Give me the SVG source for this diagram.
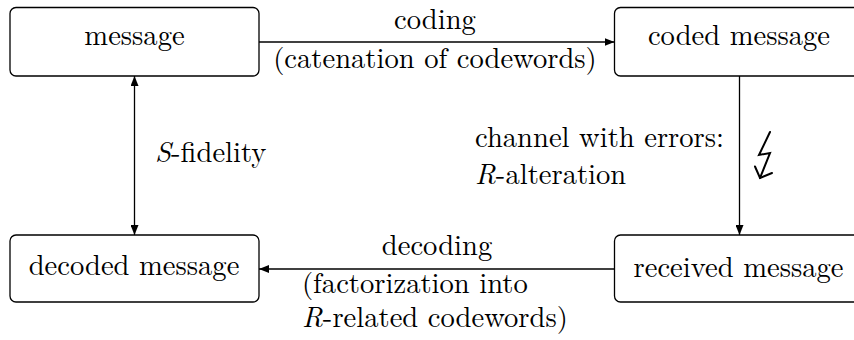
<svg xmlns="http://www.w3.org/2000/svg" width="854" height="340" viewBox="0 0 854 340" font-family="Latin Modern Roman, Liberation Serif, serif" font-size="28.6">
  <style>
    .box { fill: #ffffff; stroke: #000000; stroke-width: 1.3; }
    .mid { text-anchor: middle; }
    .it { font-style: italic; }
    .edge { fill: none; stroke: #000000; stroke-width: 1.3; }
    .bolt { fill: none; stroke: #000000; stroke-width: 2; stroke-linejoin: miter; stroke-linecap: round; }
  </style>
  <defs>
    <marker id="head" viewBox="0 0 10 8" refX="10" refY="4" markerWidth="10" markerHeight="8" markerUnits="userSpaceOnUse" orient="auto-start-reverse">
      <path d="M0,0 L10,4 L0,8 Z" fill="#000000"/>
    </marker>
  </defs>

  <rect width="854" height="340" fill="#ffffff"/>

  <!-- connectors -->
  <g id="connectors">
    <line class="edge" x1="259" y1="42" x2="614.5" y2="42" marker-end="url(#head)"/>
    <line class="edge" x1="739.5" y1="76" x2="739.5" y2="235" marker-end="url(#head)"/>
    <line class="edge" x1="614.5" y1="269" x2="259" y2="269" marker-end="url(#head)"/>
    <line class="edge" x1="134.5" y1="76" x2="134.5" y2="235" marker-start="url(#head)" marker-end="url(#head)"/>
    <!-- lightning bolt beside the channel -->
    <path class="bolt" d="M770,132 L759,155 L770,153 L760,178"/>
    <path class="bolt" d="M755,166.5 L760,178 L772,173"/>
  </g>

  <!-- edge labels -->
  <g id="labels" font-family="Latin Modern Roman, Liberation Serif, serif" font-size="28.6">
    <text class="mid" x="435" y="28.5">coding</text>
    <text class="mid" x="435" y="68">(catenation of codewords)</text>
    <text x="475" y="147">channel with errors:</text>
    <text x="475" y="184"><tspan class="it">R</tspan>-alteration</text>
    <text x="155" y="162"><tspan class="it">S</tspan>-fidelity</text>
    <text class="mid" x="437" y="255">decoding</text>
    <text x="302" y="293">(factorization into</text>
    <text x="302" y="327"><tspan class="it">R</tspan>-related codewords)</text>
  </g>

  <!-- nodes -->
  <g id="message" font-family="Latin Modern Roman, Liberation Serif, serif" font-size="28.6">
    <rect class="box" x="10" y="7.5" width="249" height="68.5" rx="6"/>
    <text class="mid" x="134.5" y="45">message</text>
  </g>
  <g id="coded-message" font-family="Latin Modern Roman, Liberation Serif, serif" font-size="28.6">
    <rect class="box" x="614.5" y="7.5" width="249" height="68.5" rx="6"/>
    <text class="mid" x="739" y="45">coded message</text>
  </g>
  <g id="received-message" font-family="Latin Modern Roman, Liberation Serif, serif" font-size="28.6">
    <rect class="box" x="614.5" y="235" width="249" height="67" rx="6"/>
    <text class="mid" x="738.5" y="277">received message</text>
  </g>
  <g id="decoded-message" font-family="Latin Modern Roman, Liberation Serif, serif" font-size="28.6">
    <rect class="box" x="10" y="235" width="249" height="67" rx="6"/>
    <text class="mid" x="134" y="275">decoded message</text>
  </g>
</svg>
